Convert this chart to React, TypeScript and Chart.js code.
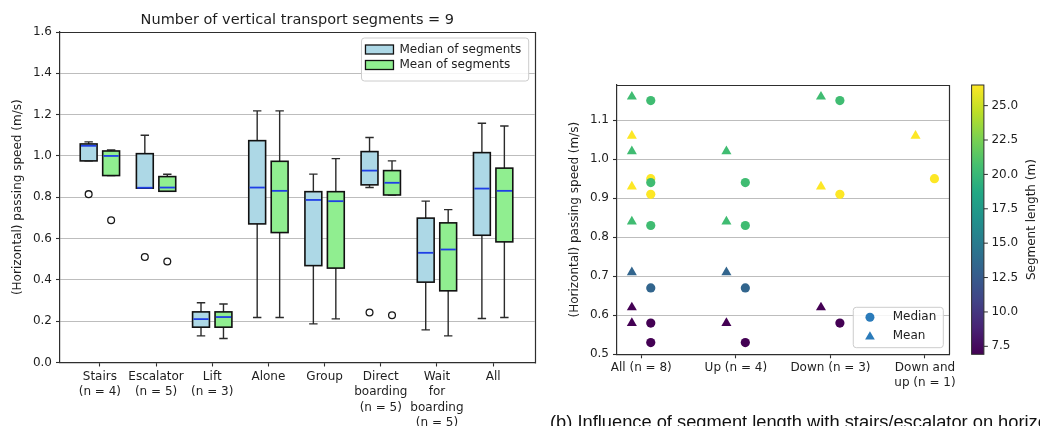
import React, { useEffect, useRef } from 'react';
import { Chart, registerables } from 'chart.js';

Chart.register(...registerables);

const FONT = "'DejaVu Sans', sans-serif";
const TEXT = '#1e1e1e';
const SPINE = '#2e2e2e';
const GRID = '#bdbdbd';

// ---------------- (a) Box plots ----------------
const groupLabels: string[][] = [
  ['Stairs', '(n = 4)'],
  ['Escalator', '(n = 5)'],
  ['Lift', '(n = 3)'],
  ['Alone'],
  ['Group'],
  ['Direct', 'boarding', '(n = 5)'],
  ['Wait', 'for', 'boarding', '(n = 5)'],
  ['All'],
];
// [lower whisker, Q1, median, Q3, upper whisker]
const medianOfSegments: number[][] = [
  [0.976, 0.976, 1.049, 1.058, 1.068],
  [0.844, 0.844, 0.846, 1.011, 1.1],
  [0.129, 0.171, 0.21, 0.245, 0.289],
  [0.218, 0.671, 0.847, 1.074, 1.218],
  [0.187, 0.469, 0.787, 0.827, 0.912],
  [0.847, 0.86, 0.929, 1.021, 1.089],
  [0.158, 0.389, 0.531, 0.699, 0.781],
  [0.213, 0.616, 0.842, 1.016, 1.158],
];
const meanOfSegments: number[][] = [
  [0.905, 0.905, 1.0, 1.024, 1.029],
  [0.829, 0.829, 0.847, 0.9, 0.911],
  [0.116, 0.171, 0.22, 0.245, 0.283],
  [0.218, 0.629, 0.831, 0.974, 1.218],
  [0.211, 0.457, 0.781, 0.827, 0.987],
  [0.811, 0.811, 0.87, 0.929, 0.976],
  [0.129, 0.347, 0.547, 0.676, 0.74],
  [0.218, 0.584, 0.831, 0.941, 1.145],
];
const medianOutliers: (number | null)[] = [0.815, 0.511, null, null, null, 0.242, null, null];
const meanOutliers: (number | null)[] = [0.689, 0.489, null, null, null, 0.229, null, null];
const speedTicks = [0, 0.2, 0.4, 0.6, 0.8, 1.0, 1.2, 1.4, 1.6];
const boxLegend = ['Median of segments', 'Mean of segments'];
const boxTitle = 'Number of vertical transport segments = 9';

// ---------------- (b) Scatter ----------------
const directionLabels: (string | string[])[] = ['All (n = 8)', 'Up (n = 4)', 'Down (n = 3)', ['Down and', 'up (n = 1)']];
const segmentDirection = [2, 3, 1, 2, 1, 1, 2, 1]; // index into directionLabels (0 = All)
const segmentLength = [20.4, 26.5, 20.4, 26.5, 20.4, 13.3, 6.92, 6.92];
const segmentMeanSpeed = [1.16, 1.06, 1.02, 0.93, 0.84, 0.71, 0.62, 0.58];
const segmentMedianSpeed = [1.15, 0.95, 0.94, 0.91, 0.83, 0.67, 0.58, 0.53];
const scatterSpeedTicks = [0.5, 0.6, 0.7, 0.8, 0.9, 1.0, 1.1];
const lengthTicks = [7.5, 10, 12.5, 15, 17.5, 20, 22.5, 25];
const lengthMin = 6.92;
const lengthMax = 26.5;
const caption = '(b) Influence of segment length with stairs/escalator on horizontal passing speed';

const VIRIDIS = ['#440154', '#482475', '#414487', '#355f8d', '#2a788e', '#21918c', '#22a884', '#44bf70', '#7ad151', '#bddf26', '#fde725'];

function hexToRgb(h: string) {
  return [parseInt(h.slice(1, 3), 16), parseInt(h.slice(3, 5), 16), parseInt(h.slice(5, 7), 16)];
}
function viridis(t: number) {
  const c = Math.max(0, Math.min(1, t)) * (VIRIDIS.length - 1);
  const i = Math.min(Math.floor(c), VIRIDIS.length - 2);
  const f = c - i;
  const a = hexToRgb(VIRIDIS[i]);
  const b = hexToRgb(VIRIDIS[i + 1]);
  const m = a.map((v, k) => Math.round(v + (b[k] - v) * f));
  return `rgb(${m[0]},${m[1]},${m[2]})`;
}
const lengthColor = (len: number) => viridis((len - lengthMin) / (lengthMax - lengthMin));

const BOX_OFFSET = 0.2;
const BOX_WIDTH = 0.3;

const boxPlugin = {
  id: 'boxes',
  beforeDatasetsDraw(chart: any) {
    const { ctx, scales } = chart;
    const x = scales.x;
    const y = scales.y;
    const draw = (stats: number[][], off: number, fill: string) => {
      stats.forEach((s, i) => {
        const c = i + 1 + off;
        const xl = x.getPixelForValue(c - BOX_WIDTH / 2);
        const xr = x.getPixelForValue(c + BOX_WIDTH / 2);
        const xc = x.getPixelForValue(c);
        const cl = x.getPixelForValue(c - BOX_WIDTH / 4);
        const cr = x.getPixelForValue(c + BOX_WIDTH / 4);
        const [lo, q1, med, q3, hi] = s.map((v) => y.getPixelForValue(v));
        ctx.save();
        ctx.strokeStyle = '#2b2b2b';
        ctx.lineWidth = 1.4;
        ctx.beginPath();
        ctx.moveTo(xc, q1); ctx.lineTo(xc, lo);
        ctx.moveTo(xc, q3); ctx.lineTo(xc, hi);
        ctx.moveTo(cl, lo); ctx.lineTo(cr, lo);
        ctx.moveTo(cl, hi); ctx.lineTo(cr, hi);
        ctx.stroke();
        ctx.fillStyle = fill;
        ctx.fillRect(xl, q3, xr - xl, q1 - q3);
        ctx.strokeStyle = '#111';
        ctx.lineWidth = 1.6;
        ctx.strokeRect(xl, q3, xr - xl, q1 - q3);
        ctx.strokeStyle = '#1f3fe6';
        ctx.lineWidth = 1.8;
        ctx.beginPath();
        ctx.moveTo(xl + 0.8, med); ctx.lineTo(xr - 0.8, med);
        ctx.stroke();
        ctx.restore();
      });
    };
    draw(medianOfSegments, -BOX_OFFSET, '#add8e6');
    draw(meanOfSegments, BOX_OFFSET, '#90ee90');
  },
};

const spinePlugin = {
  id: 'spines',
  afterDraw(chart: any) {
    const { ctx, chartArea: a } = chart;
    ctx.save();
    ctx.strokeStyle = SPINE;
    ctx.lineWidth = 1.2;
    ctx.beginPath();
    const l = Math.round(a.left) - 0.5, r = Math.round(a.right) + 0.5;
    const t = Math.round(a.top) + 0.5, b = Math.round(a.bottom) + 0.5;
    ctx.moveTo(l, t); ctx.lineTo(r, t); ctx.lineTo(r, b);
    ctx.stroke();
    ctx.restore();
  },
};

function roundRect(ctx: CanvasRenderingContext2D, x: number, y: number, w: number, h: number, r: number) {
  ctx.beginPath();
  ctx.moveTo(x + r, y);
  ctx.lineTo(x + w - r, y);
  ctx.quadraticCurveTo(x + w, y, x + w, y + r);
  ctx.lineTo(x + w, y + h - r);
  ctx.quadraticCurveTo(x + w, y + h, x + w - r, y + h);
  ctx.lineTo(x + r, y + h);
  ctx.quadraticCurveTo(x, y + h, x, y + h - r);
  ctx.lineTo(x, y + r);
  ctx.quadraticCurveTo(x, y, x + r, y);
  ctx.closePath();
}

const boxDecorPlugin = {
  id: 'boxDecor',
  afterDraw(chart: any) {
    const { ctx, chartArea: a } = chart;
    ctx.save();
    // title
    ctx.fillStyle = TEXT;
    ctx.font = `14.5px ${FONT}`;
    ctx.textAlign = 'center';
    ctx.textBaseline = 'middle';
    ctx.fillText(boxTitle, (a.left + a.right) / 2, 20);
    // legend
    ctx.font = `12px ${FONT}`;
    const tw = Math.max(...boxLegend.map((t) => ctx.measureText(t).width));
    const w = 38 + tw + 7.5;
    const h = 43;
    const fx = a.right - 6 - w;
    const fy = a.top + 6;
    roundRect(ctx, fx, fy, w, h, 3);
    ctx.fillStyle = 'rgba(255,255,255,0.85)';
    ctx.fill();
    ctx.strokeStyle = '#cccccc';
    ctx.lineWidth = 1;
    ctx.stroke();
    const fills = ['#add8e6', '#90ee90'];
    const rows = [fy + 11.5, fy + 27];
    rows.forEach((ry, i) => {
      ctx.fillStyle = fills[i];
      ctx.fillRect(fx + 4, ry - 4.5, 28, 9);
      ctx.strokeStyle = '#111';
      ctx.lineWidth = 1.3;
      ctx.strokeRect(fx + 4, ry - 4.5, 28, 9);
      ctx.fillStyle = TEXT;
      ctx.textAlign = 'left';
      ctx.textBaseline = 'middle';
      ctx.fillText(boxLegend[i], fx + 38, ry);
    });
    ctx.restore();
  },
};

function drawTriangle(ctx: CanvasRenderingContext2D, x: number, y: number, r: number) {
  ctx.beginPath();
  for (let k = 0; k < 3; k++) {
    const ang = (k * 2 * Math.PI) / 3;
    const px = x + Math.sin(ang) * r;
    const py = y - Math.cos(ang) * r;
    if (k === 0) ctx.moveTo(px, py); else ctx.lineTo(px, py);
  }
  ctx.closePath();
  ctx.fill();
}

const scatterDecorPlugin = {
  id: 'scatterDecor',
  afterDraw(chart: any) {
    const { ctx, chartArea: a } = chart;
    const cb = chart.scales.cb;
    ctx.save();
    // legend
    ctx.font = `12px ${FONT}`;
    const labels = ['Median', 'Mean'];
    const tw = Math.max(...labels.map((t) => ctx.measureText(t).width));
    const w = 39.4 + tw + 7;
    const h = 40.4;
    const fx = a.right - 6 - w;
    const fy = a.bottom - 6.6 - h;
    roundRect(ctx, fx, fy, w, h, 3);
    ctx.fillStyle = 'rgba(255,255,255,0.85)';
    ctx.fill();
    ctx.strokeStyle = '#cccccc';
    ctx.lineWidth = 1;
    ctx.stroke();
    const legendColor = '#2b7bba';
    const rows = [fy + 10, fy + 28.7];
    ctx.fillStyle = legendColor;
    ctx.beginPath();
    ctx.arc(fx + 16.7, rows[0], 4.5, 0, Math.PI * 2);
    ctx.fill();
    drawTriangle(ctx, fx + 16.7, rows[1] + 0.8, 5.6);
    ctx.fillStyle = TEXT;
    ctx.textAlign = 'left';
    ctx.textBaseline = 'middle';
    labels.forEach((t, i) => ctx.fillText(t, fx + 39.4, rows[i]));

    // colorbar
    const x0 = a.right + 22.3;
    const cw = 12.3;
    const yTop = cb.getPixelForValue(lengthMax);
    const yBot = cb.getPixelForValue(lengthMin);
    const grad = ctx.createLinearGradient(0, yBot, 0, yTop);
    VIRIDIS.forEach((c, i) => grad.addColorStop(i / (VIRIDIS.length - 1), c));
    ctx.fillStyle = grad;
    ctx.fillRect(x0, yTop, cw, yBot - yTop);
    ctx.strokeStyle = SPINE;
    ctx.lineWidth = 1;
    ctx.strokeRect(x0, yTop, cw, yBot - yTop);
    ctx.fillStyle = TEXT;
    ctx.font = `12px ${FONT}`;
    ctx.textAlign = 'left';
    ctx.textBaseline = 'middle';
    lengthTicks.forEach((v) => {
      const py = cb.getPixelForValue(v);
      ctx.beginPath();
      ctx.moveTo(x0 + cw, py);
      ctx.lineTo(x0 + cw + 4, py);
      ctx.strokeStyle = SPINE;
      ctx.lineWidth = 1;
      ctx.stroke();
      ctx.fillText(v.toFixed(1), x0 + cw + 7.5, py);
    });
    ctx.save();
    ctx.translate(a.right + 82.4, (yTop + yBot) / 2);
    ctx.rotate(-Math.PI / 2);
    ctx.textAlign = 'center';
    ctx.textBaseline = 'middle';
    ctx.fillText('Segment length (m)', 0, 0);
    ctx.restore();

    // caption
    ctx.font = "18.3px 'Liberation Sans', Arial, sans-serif";
    ctx.fillStyle = '#111';
    ctx.textAlign = 'left';
    ctx.textBaseline = 'alphabetic';
    ctx.fillText(caption, 10, 428);
    ctx.restore();
  },
};

function BoxChart() {
  const ref = useRef<HTMLCanvasElement>(null);
  useEffect(() => {
    const outlierPoints = (vals: (number | null)[], off: number) =>
      vals.flatMap((v, i) => (v == null ? [] : [{ x: i + 1 + off, y: v }]));
    const chart = new Chart(ref.current as HTMLCanvasElement, {
      type: 'scatter',
      data: {
        datasets: [
          {
            label: 'Median outliers',
            data: outlierPoints(medianOutliers, -BOX_OFFSET),
            pointRadius: 3.4,
            pointBackgroundColor: '#ffffff',
            pointBorderColor: '#1a1a1a',
            pointBorderWidth: 1.3,
            xAxisID: 'x',
            yAxisID: 'y',
          },
          {
            label: 'Mean outliers',
            data: outlierPoints(meanOutliers, BOX_OFFSET),
            pointRadius: 3.4,
            pointBackgroundColor: '#ffffff',
            pointBorderColor: '#1a1a1a',
            pointBorderWidth: 1.3,
            xAxisID: 'x',
            yAxisID: 'y',
          },
        ],
      },
      options: {
        responsive: false,
        animation: false,
        devicePixelRatio: 1,
        events: [],
        layout: { padding: { top: 32, right: 4, left: 0, bottom: 0 } },
        plugins: { legend: { display: false }, tooltip: { enabled: false } },
        scales: {
          x: {
            type: 'linear',
            min: 0.29,
            max: 8.74,
            afterBuildTicks: (s: any) => {
              s.ticks = groupLabels.map((_, i) => ({ value: i + 1 }));
            },
            afterFit: (s: any) => {
              s.height = 63.5;
            },
            ticks: {
              autoSkip: false,
              maxRotation: 0,
              minRotation: 0,
              padding: 3,
              color: TEXT,
              font: { family: FONT, size: 12, lineHeight: 1.27 },
              callback: (v: any) => groupLabels[Math.round(Number(v)) - 1] ?? '',
            },
            grid: { drawOnChartArea: false, drawTicks: true, tickLength: 4, tickColor: SPINE, tickWidth: 1.1 },
            border: { display: true, color: SPINE, width: 1.2 },
          },
          y: {
            type: 'linear',
            min: 0,
            max: 1.6,
            afterBuildTicks: (s: any) => {
              s.ticks = speedTicks.map((v) => ({ value: v }));
            },
            afterFit: (s: any) => {
              s.width = 60;
            },
            ticks: {
              padding: 4,
              color: TEXT,
              font: { family: FONT, size: 12 },
              callback: (v: any) => Number(v).toFixed(1),
            },
            grid: { color: GRID, lineWidth: 1, tickLength: 4, tickColor: SPINE, tickWidth: 1.1 },
            border: { display: true, color: SPINE, width: 1.2 },
            title: {
              display: true,
              text: '(Horizontal) passing speed (m/s)',
              color: TEXT,
              font: { family: FONT, size: 12 },
              padding: { top: 10.8, bottom: 0 },
            },
          },
        },
      } as any,
      plugins: [boxPlugin, spinePlugin, boxDecorPlugin],
    });
    return () => chart.destroy();
  }, []);
  return <canvas ref={ref} width={540} height={426} style={{ position: 'absolute', left: 0, top: 0, width: 540, height: 426 }} />;
}

function ScatterChart() {
  const ref = useRef<HTMLCanvasElement>(null);
  useEffect(() => {
    const meanPts: { x: number; y: number }[] = [];
    const meanCols: string[] = [];
    const medPts: { x: number; y: number }[] = [];
    const medCols: string[] = [];
    directionLabels.forEach((_, g) => {
      segmentDirection.forEach((d, s) => {
        if (g === 0 || d === g) {
          meanPts.push({ x: g - 0.1, y: segmentMeanSpeed[s] });
          meanCols.push(lengthColor(segmentLength[s]));
          medPts.push({ x: g + 0.1, y: segmentMedianSpeed[s] });
          medCols.push(lengthColor(segmentLength[s]));
        }
      });
    });
    const chart = new Chart(ref.current as HTMLCanvasElement, {
      type: 'scatter',
      data: {
        datasets: [
          {
            label: 'Median',
            data: medPts,
            pointStyle: 'circle',
            pointRadius: 4.6,
            pointBackgroundColor: medCols,
            pointBorderWidth: 0,
            xAxisID: 'x',
            yAxisID: 'y',
          },
          {
            label: 'Mean',
            data: meanPts,
            pointStyle: 'triangle',
            pointRadius: 5.8,
            pointBackgroundColor: meanCols,
            pointBorderWidth: 0,
            xAxisID: 'x',
            yAxisID: 'y',
          },
        ],
      },
      options: {
        responsive: false,
        animation: false,
        devicePixelRatio: 1,
        events: [],
        layout: { padding: { top: 85, right: 90.7, left: 0, bottom: 0 } },
        plugins: { legend: { display: false }, tooltip: { enabled: false } },
        scales: {
          x: {
            type: 'linear',
            min: -0.257,
            max: 3.257,
            afterBuildTicks: (s: any) => {
              s.ticks = directionLabels.map((_, i) => ({ value: i }));
            },
            afterFit: (s: any) => {
              s.height = 71.7;
            },
            ticks: {
              autoSkip: false,
              maxRotation: 0,
              minRotation: 0,
              padding: 2.5,
              color: TEXT,
              font: { family: FONT, size: 12, lineHeight: 1.25 },
              callback: (v: any) => directionLabels[Math.round(Number(v))] ?? '',
            },
            grid: { drawOnChartArea: false, drawTicks: true, tickLength: 4, tickColor: SPINE, tickWidth: 1.1 },
            border: { display: true, color: SPINE, width: 1.2 },
          },
          y: {
            type: 'linear',
            min: 0.5,
            max: 1.19,
            afterBuildTicks: (s: any) => {
              s.ticks = scatterSpeedTicks.map((v) => ({ value: v }));
            },
            afterFit: (s: any) => {
              s.width = 77;
            },
            ticks: {
              padding: 4,
              color: TEXT,
              font: { family: FONT, size: 12 },
              callback: (v: any) => Number(v).toFixed(1),
            },
            grid: { color: GRID, lineWidth: 1, tickLength: 4, tickColor: SPINE, tickWidth: 1.1 },
            border: { display: true, color: SPINE, width: 1.2 },
            title: {
              display: true,
              text: '(Horizontal) passing speed (m/s)',
              color: TEXT,
              font: { family: FONT, size: 12 },
              padding: { top: 27.8, bottom: 0 },
            },
          },
          cb: {
            type: 'linear',
            position: 'right',
            display: false,
            min: lengthMin,
            max: lengthMax,
          },
        },
      } as any,
      plugins: [spinePlugin, scatterDecorPlugin],
    });
    return () => chart.destroy();
  }, []);
  return <canvas ref={ref} width={500} height={426} style={{ position: 'absolute', left: 540, top: 0, width: 500, height: 426 }} />;
}

export default function App() {
  return (
    <div style={{ position: 'fixed', left: 0, top: 0, width: 1040, height: 426, background: '#ffffff', overflow: 'hidden' }}>
      <BoxChart />
      <ScatterChart />
    </div>
  );
}
